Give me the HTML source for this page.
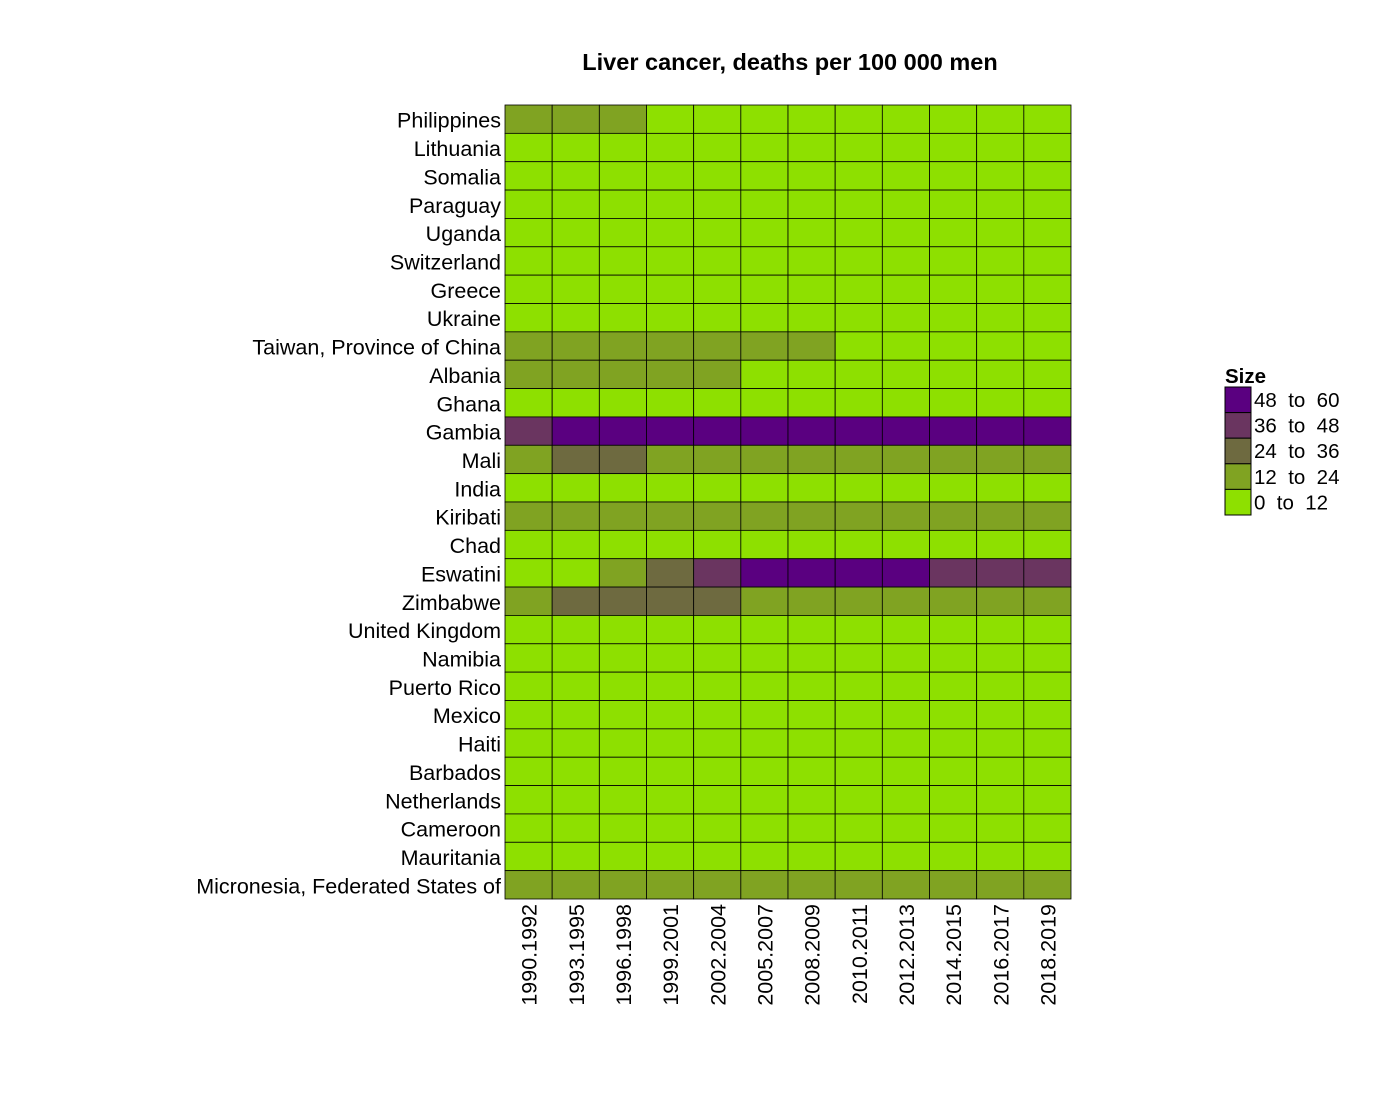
<!DOCTYPE html>
<html><head><meta charset="utf-8"><style>
body{margin:0;background:#fff;font-family:"Liberation Sans",sans-serif}
</style></head><body>
<svg id="chart" width="1400" height="1100" xmlns="http://www.w3.org/2000/svg">
<text x="790" y="70" text-anchor="middle" font-size="23.5" font-weight="bold">Liver cancer, deaths per 100 000 men</text>
<g id="cells"></g>
<g id="ylabels"></g>
<g id="xlabels"></g>
<g id="legend">
<text x="1225" y="383" font-size="20.5" font-weight="bold">Size</text>
</g>
</svg>
<script>
const years = ["1990.1992","1993.1995","1996.1998","1999.2001","2002.2004","2005.2007","2008.2009","2010.2011","2012.2013","2014.2015","2016.2017","2018.2019"];
const countries = ["Philippines","Lithuania","Somalia","Paraguay","Uganda","Switzerland","Greece","Ukraine","Taiwan, Province of China","Albania","Ghana","Gambia","Mali","India","Kiribati","Chad","Eswatini","Zimbabwe","United Kingdom","Namibia","Puerto Rico","Mexico","Haiti","Barbados","Netherlands","Cameroon","Mauritania","Micronesia, Federated States of"];
const values = [
[18,17,16,10,9,8,8,7,7,7,7,7],
[5,5,5,5,5,5,5,5,5,5,5,5],
[6,6,6,6,6,6,6,6,6,6,6,6],
[6,6,6,6,6,6,6,6,6,6,6,6],
[8,8,8,8,8,8,8,8,8,8,8,8],
[8,8,8,8,8,8,8,8,8,8,8,8],
[7,7,7,7,7,7,7,7,7,7,7,7],
[5,5,5,5,5,5,5,5,5,5,5,5],
[20,20,20,20,18,16,14,11,10,10,10,10],
[16,16,15,14,13,11,10,10,10,10,10,10],
[10,10,10,10,10,10,10,10,10,10,10,10],
[45,52,54,55,55,55,55,55,55,55,55,55],
[22,28,28,23,22,22,22,22,22,22,22,22],
[3,3,3,3,3,3,3,3,3,3,3,3],
[20,20,20,20,20,20,20,20,20,20,20,20],
[8,8,8,8,8,8,8,8,8,8,8,8],
[10,11,15,30,40,50,52,53,50,45,44,44],
[22,30,30,30,30,22,22,22,22,22,22,22],
[6,6,6,6,6,6,6,6,6,6,6,6],
[7,7,7,7,7,7,7,7,7,7,7,7],
[8,8,8,8,8,8,8,8,8,8,8,8],
[5,5,5,5,5,5,5,5,5,5,5,5],
[8,8,8,8,8,8,8,8,8,8,8,8],
[7,7,7,7,7,7,7,7,7,7,7,7],
[4,4,4,4,4,4,4,4,4,4,4,4],
[9,9,9,9,9,9,9,9,9,9,9,9],
[6,6,6,6,6,6,6,6,6,6,6,6],
[20,20,20,20,20,20,20,20,20,20,20,20]
];
const binLabels = ["48  to  60","36  to  48","24  to  36","12  to  24","0  to  12"];
const binColors = ["#5a0080","#6a3560","#6e6a40","#80a322","#8ee000"];
const binLow = [48,36,24,12,0];

const NS="http://www.w3.org/2000/svg";
const x0=505,x1=1071,y0=105,y1=899;
const cw=(x1-x0)/years.length, ch=(y1-y0)/countries.length;
const xPos=i=>x0+i*cw, yPos=j=>y0+j*ch;
function colorFor(v){for(let k=0;k<binLow.length;k++){if(v>=binLow[k])return binColors[k];}return binColors[4];}
function mk(tag,attrs,parent){const e=document.createElementNS(NS,tag);for(const k in attrs)e.setAttribute(k,attrs[k]);parent.appendChild(e);return e;}
const cells=document.getElementById('cells');
countries.forEach((c,j)=>{years.forEach((y,i)=>{
  const r=mk('rect',{x:xPos(i),y:yPos(j),width:cw,height:ch,fill:colorFor(values[j][i]),stroke:'#000','stroke-width':0.8},cells);
  
  
});});
const yl=document.getElementById('ylabels');
countries.forEach((c,j)=>{
  const t=mk('text',{x:501,y:yPos(j)+ch/2+8.5,'text-anchor':'end','font-size':21.5},yl);
  t.textContent=c;
  
  
});
const xl=document.getElementById('xlabels');
years.forEach((y,i)=>{
  const cx=xPos(i)+cw/2+8, cy=904;
  const t=mk('text',{x:cx,y:cy,'text-anchor':'end','font-size':21.5,transform:`rotate(-90 ${cx} ${cy})`},xl);
  t.textContent=y;
  
  
});
const lg=document.getElementById('legend');
binLabels.forEach((l,k)=>{
  const yy=387+k*25.6;
  const r=mk('rect',{x:1225,y:yy,width:26,height:25.6,fill:binColors[k],stroke:'#000','stroke-width':1},lg);
  
  
  const t=mk('text',{x:1254,y:yy+20,'font-size':20.5,'xml:space':'preserve'},lg);
  t.style.whiteSpace='pre';
  t.textContent=l;
  
  
});
</script>
</body></html>
